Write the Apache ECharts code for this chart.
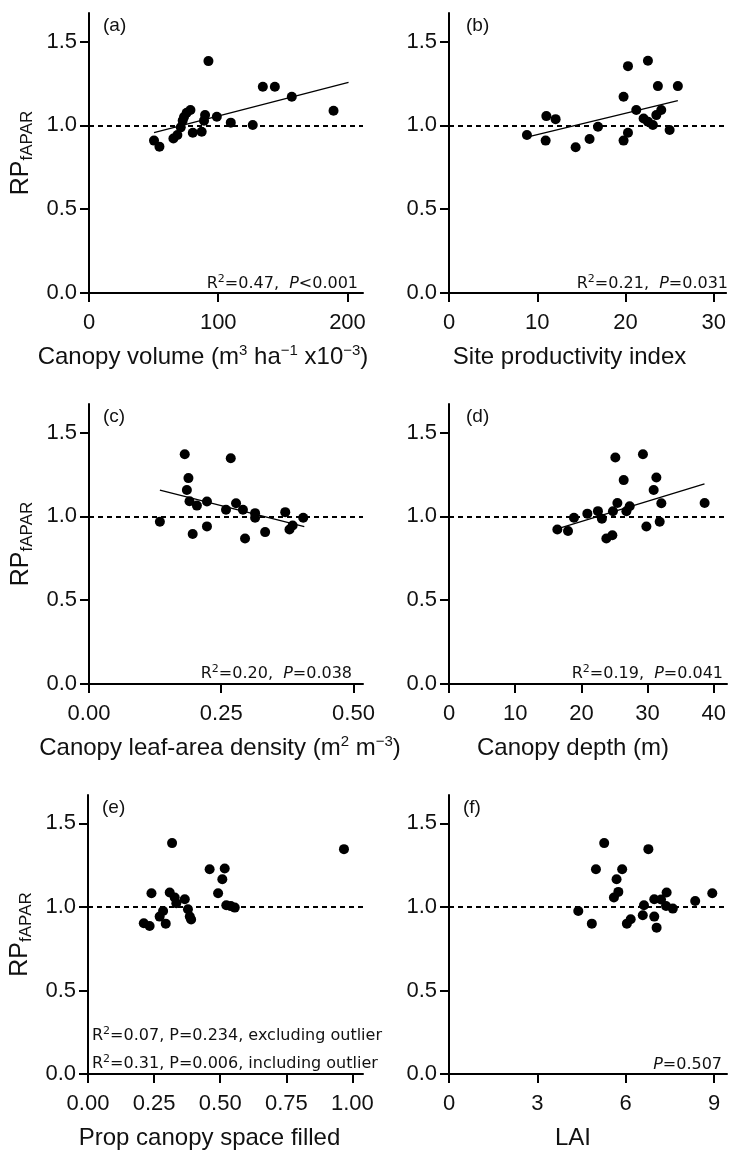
<!DOCTYPE html>
<html><head><meta charset="utf-8">
<script src="https://cdn.jsdelivr.net/npm/echarts@6/dist/echarts.min.js"></script>
<style>html,body{margin:0;padding:0;background:#fff}#c{width:729px;height:1153px}</style>
</head><body><div id="c"></div>
<script>
// ---- Data ----
const yTicks = [0, 0.5, 1.0, 1.5];

// (a) Canopy volume
const ax = [50.3, 54.5, 65.3, 68.4, 71.0, 72.5, 73.5, 75.6, 78.5, 80.3, 87.2, 89.0, 89.8, 92.4, 98.9, 109.7, 126.7, 134.5, 143.8, 156.9, 189.2];
const ay = [0.909, 0.873, 0.922, 0.942, 0.988, 1.028, 1.05, 1.075, 1.091, 0.956, 0.962, 1.028, 1.061, 1.383, 1.051, 1.016, 1.002, 1.230, 1.230, 1.170, 1.087];
const trendA = [[50.3, 0.956], [200.8, 1.256]];
const xTicksA = [0, 100, 200];

// (b) Site productivity index
const bx = [8.83, 10.95, 11.03, 12.08, 14.35, 15.93, 16.88, 19.78, 20.28, 22.54, 19.78, 20.28, 21.22, 22.05, 22.54, 23.1, 23.67, 25.93, 23.49, 24.05, 25.0];
const by = [0.942, 0.909, 1.055, 1.037, 0.869, 0.918, 0.992, 1.170, 1.353, 1.385, 0.909, 0.956, 1.091, 1.041, 1.022, 1.002, 1.234, 1.234, 1.061, 1.091, 0.972];
const trendB = [[8.83, 0.929], [25.93, 1.147]];
const xTicksB = [0, 10, 20, 30];

// (c) Canopy leaf-area density
const cx = [0.181, 0.268, 0.188, 0.185, 0.190, 0.204, 0.223, 0.259, 0.278, 0.291, 0.314, 0.314, 0.371, 0.405, 0.379, 0.385, 0.134, 0.196, 0.223, 0.295, 0.333];
const cy = [1.370, 1.346, 1.228, 1.157, 1.090, 1.064, 1.088, 1.039, 1.078, 1.039, 1.019, 0.992, 1.025, 0.992, 0.921, 0.945, 0.968, 0.895, 0.940, 0.868, 0.906];
const trendC = [[0.134, 1.157], [0.407, 0.939]];
const xTicksC = [0, 0.25, 0.5];

// (d) Canopy depth
const dx = [16.37, 17.98, 18.88, 20.9, 22.5, 23.1, 23.77, 24.68, 24.77, 25.44, 26.8, 27.3, 25.13, 26.39, 29.3, 31.33, 30.92, 32.08, 29.82, 31.83, 38.62];
const dy = [0.921, 0.913, 0.992, 1.016, 1.031, 0.986, 0.868, 0.887, 1.030, 1.080, 1.030, 1.060, 1.351, 1.216, 1.370, 1.232, 1.157, 1.078, 0.939, 0.968, 1.080];
const trendD = [[16.47, 0.926], [38.6, 1.194]];
const xTicksD = [0, 10, 20, 30, 40];

// (e) Prop canopy space filled
const ex = [0.318, 0.968, 0.460, 0.517, 0.508, 0.240, 0.492, 0.309, 0.328, 0.366, 0.334, 0.378, 0.523, 0.555, 0.284, 0.271, 0.385, 0.390, 0.211, 0.233, 0.294, 0.540];
const ey = [1.382, 1.346, 1.226, 1.230, 1.166, 1.082, 1.082, 1.086, 1.056, 1.046, 1.022, 0.986, 1.010, 0.996, 0.976, 0.942, 0.942, 0.925, 0.902, 0.886, 0.900, 1.005];
const xTicksE = [0, 0.25, 0.5, 0.75, 1.0];

// (f) LAI
const fx = [5.27, 6.77, 4.99, 5.88, 5.69, 5.75, 5.60, 7.39, 6.97, 7.37, 7.60, 6.62, 8.36, 8.94, 4.39, 6.58, 6.97, 4.85, 6.04, 6.17, 7.05, 7.20];
const fy = [1.382, 1.346, 1.226, 1.226, 1.166, 1.090, 1.056, 1.086, 1.046, 1.006, 0.990, 1.010, 1.036, 1.082, 0.976, 0.950, 0.942, 0.900, 0.900, 0.926, 0.876, 1.045];
const xTicksF = [0, 3, 6, 9];

// ---- Styling ----
const FONT = 'Liberation Sans, Arial, sans-serif';
const AFONT = 'DejaVu Sans, Verdana, sans-serif';
const TXT = '#111';

const nameRich = {
  n: { fontSize: 24, lineHeight: 28, fontFamily: FONT, color: TXT },
  s: { fontSize: 15, lineHeight: 15, fontFamily: FONT, color: TXT, verticalAlign: 'top' }
};
const yNameRich = {
  r: { fontSize: 25, lineHeight: 29, fontFamily: FONT, color: TXT },
  f: { fontSize: 17, lineHeight: 17, fontFamily: FONT, color: TXT, verticalAlign: 'bottom' }
};
const annRich = {
  r: { fontSize: 16, lineHeight: 20, fontFamily: AFONT, color: TXT },
  i: { fontSize: 16, lineHeight: 20, fontFamily: AFONT, color: TXT, fontStyle: 'italic' },
  s: { fontSize: 11, lineHeight: 11, fontFamily: AFONT, color: TXT, verticalAlign: 'top' }
};

const panels = [
  { x: ax, y: ay, trend: trendA, xMax: 212, xTicks: xTicksA, iv: 100, dec: 0, g: [89, 13, 274, 280], yName: true,
    xName: '{n|Canopy volume (m}{s|3}{n| ha}{s|−1}{n| x10}{s|−3}{n|)}', pad: 46, label: '(a)', lab: [103, 16] },
  { x: bx, y: by, trend: trendB, xMax: 31.4, xTicks: xTicksB, iv: 10, dec: 0, g: [449, 13, 278, 280], yName: false,
    xName: '{n|Site productivity index}', pad: 36, label: '(b)', lab: [466, 16] },
  { x: cx, y: cy, trend: trendC, xMax: 0.518, xTicks: xTicksC, iv: 0.25, dec: 2, g: [89, 404, 274, 280], yName: true,
    xName: '{n|Canopy leaf-area density (m}{s|2}{n| m}{s|−3}{n|)}', pad: 12, label: '(c)', lab: [103, 407] },
  { x: dx, y: dy, trend: trendD, xMax: 42, xTicks: xTicksD, iv: 10, dec: 0, g: [449, 404, 278, 280], yName: false,
    xName: '{n|Canopy depth (m)}', pad: 30, label: '(d)', lab: [466, 407] },
  { x: ex, y: ey, trend: null, xMax: 1.04, xTicks: xTicksE, iv: 0.25, dec: 2, g: [88, 795, 275, 279], yName: true,
    xName: '{n|Prop canopy space filled}', pad: 32, label: '(e)', lab: [102, 798] },
  { x: fx, y: fy, trend: null, xMax: 9.44, xTicks: xTicksF, iv: 3, dec: 0, g: [449, 795, 278, 279], yName: false,
    xName: '{n|LAI}', pad: 30, label: '(f)', lab: [463, 798] }
];

const annotations = [
  { text: '{r|R}{s|2}{r|=0.47,  }{i|P}{r|<0.001}', right: 371, top: 274 },
  { text: '{r|R}{s|2}{r|=0.21,  }{i|P}{r|=0.031}', right: 1, top: 274 },
  { text: '{r|R}{s|2}{r|=0.20,  }{i|P}{r|=0.038}', right: 377, top: 664 },
  { text: '{r|R}{s|2}{r|=0.19,  }{i|P}{r|=0.041}', right: 6, top: 664 },
  { text: '{r|R}{s|2}{r|=0.07, P=0.234, excluding outlier}', left: 92, top: 1026 },
  { text: '{r|R}{s|2}{r|=0.31, P=0.006, including outlier}', left: 92, top: 1054 },
  { text: '{i|P}{r|=0.507}', right: 7, top: 1055 }
];

const axisLineStyle = { color: '#000', width: 2 };
const grid = [], xAxis = [], yAxis = [], series = [], title = [];

panels.forEach((p, i) => {
  grid.push({ left: p.g[0], top: p.g[1], width: p.g[2], height: p.g[3], containLabel: false });
  xAxis.push({
    type: 'value', gridIndex: i, min: 0, max: p.xMax, interval: p.iv,
    axisLine: { show: true, onZero: false, lineStyle: axisLineStyle },
    axisTick: { show: true, length: 9, lineStyle: axisLineStyle, customValues: p.xTicks },
    axisLabel: { customValues: p.xTicks, formatter: v => v.toFixed(p.dec), fontSize: 22, color: TXT, fontFamily: FONT, margin: 19 },
    splitLine: { show: false },
    name: p.xName, nameLocation: 'middle', nameGap: 50,
    nameTextStyle: { padding: [0, p.pad, 0, 0], rich: nameRich }
  });
  yAxis.push({
    type: 'value', gridIndex: i, min: 0, max: 1.67, interval: 0.5,
    axisLine: { show: true, onZero: false, lineStyle: axisLineStyle },
    axisTick: { show: true, length: 9, lineStyle: axisLineStyle, customValues: yTicks },
    axisLabel: { customValues: yTicks, formatter: v => v.toFixed(1), fontSize: 22, color: TXT, fontFamily: FONT, margin: 12 },
    splitLine: { show: false },
    name: p.yName ? '{r|RP}{f|fAPAR}' : '', nameLocation: 'middle', nameGap: 53,
    nameTextStyle: { rich: yNameRich }
  });
  series.push({
    type: 'line', xAxisIndex: i, yAxisIndex: i, data: p.trend || [], symbol: 'none', silent: true, z: 1,
    lineStyle: { color: '#000', width: 1.3 },
    markLine: {
      silent: true, symbol: ['none', 'none'], label: { show: false },
      lineStyle: { type: [5, 4], width: 2, color: '#000' },
      data: [{ yAxis: 1 }], animation: false
    }
  });
  series.push({
    type: 'scatter', xAxisIndex: i, yAxisIndex: i, z: 3,
    data: p.x.map((v, k) => [v, p.y[k]]),
    symbol: 'circle', symbolSize: 10, itemStyle: { color: '#000', opacity: 1 }
  });
  title.push({ text: p.label, left: p.lab[0], top: p.lab[1], padding: 0,
    textStyle: { fontSize: 19, fontWeight: 'normal', fontFamily: FONT, color: TXT } });
});

annotations.forEach(a => {
  const t = { text: a.text, top: a.top, padding: 0, textStyle: { rich: annRich, fontFamily: AFONT, fontWeight: 'normal' } };
  if (a.right !== undefined) t.right = a.right; else t.left = a.left;
  title.push(t);
});

const chart = echarts.init(document.getElementById('c'), null, { renderer: 'canvas' });
chart.setOption({ animation: false, backgroundColor: '#fff', title, grid, xAxis, yAxis, series });
</script>
</body></html>
